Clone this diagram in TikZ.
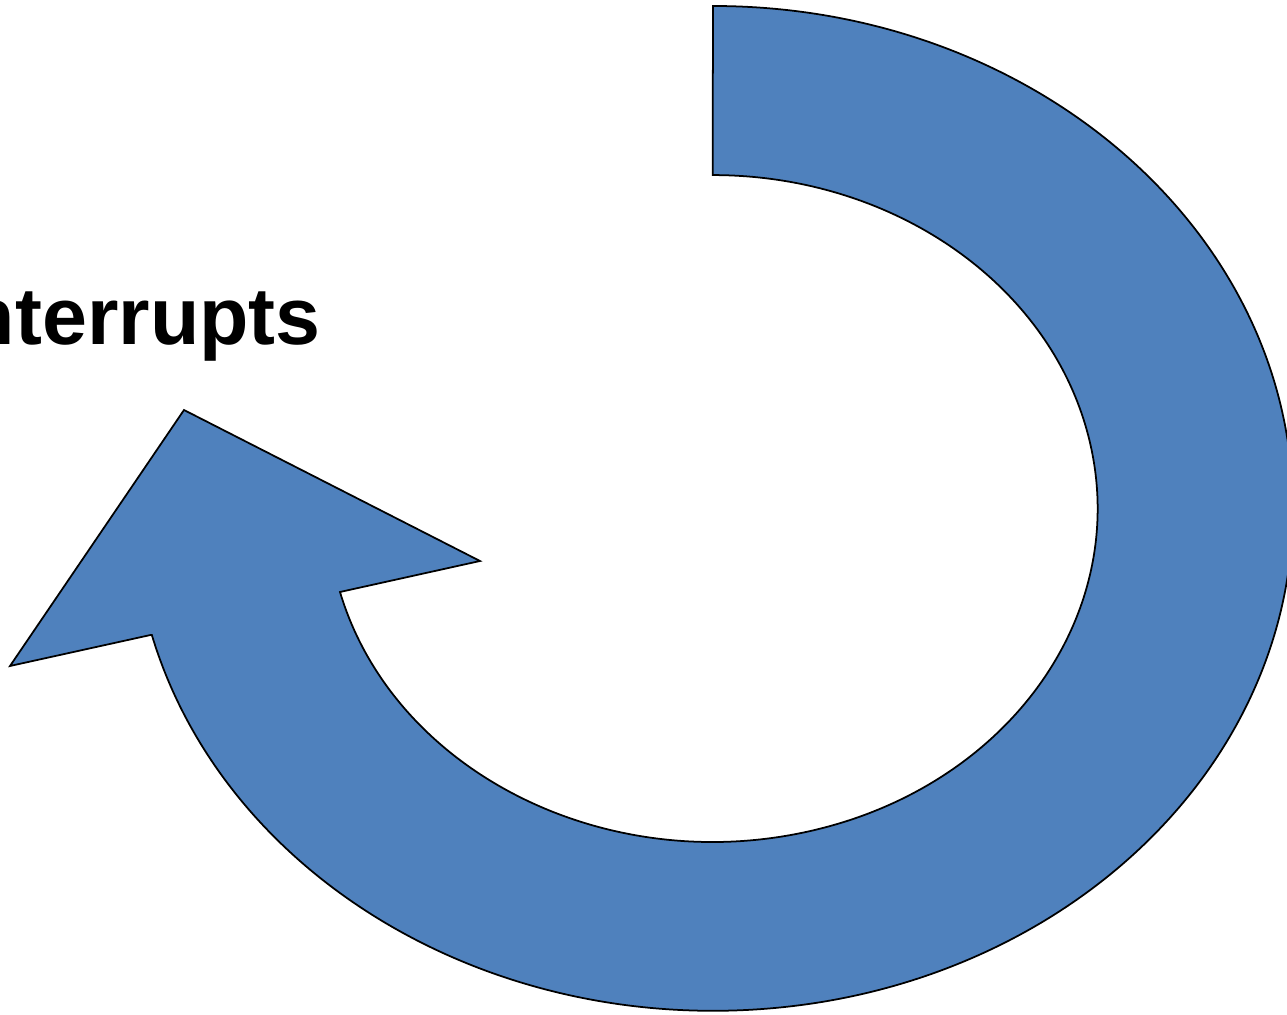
\documentclass[tikz,border=0pt]{standalone}
\usepackage{fontspec}
\setmainfont{Liberation Sans}
\definecolor{arrowblue}{HTML}{4F81BD}
\begin{document}
\begin{tikzpicture}[x=0.02cm,y=0.02cm,
  bigarrow/.style={fill=arrowblue,draw=black,line width=1pt,line join=miter},
  label/.style={inner sep=0pt,font=\bfseries\fontsize{46}{55}\selectfont}]
\useasboundingbox (0,0) rectangle (1287,1014);
\path[bigarrow] (713,1008)
  arc[start angle=90,end angle=-165.4,x radius=11.6cm,y radius=10.05cm]
  -- (150.5,379) -- (10,348) -- (184,604) -- (480,453) -- (340,422)
  arc[start angle=-165.5,end angle=90,x radius=7.7cm,y radius=6.67cm]
  -- cycle;
\node[label,anchor=base east] (t) at (321,669) {Interrupts};
\end{tikzpicture}
\end{document}
